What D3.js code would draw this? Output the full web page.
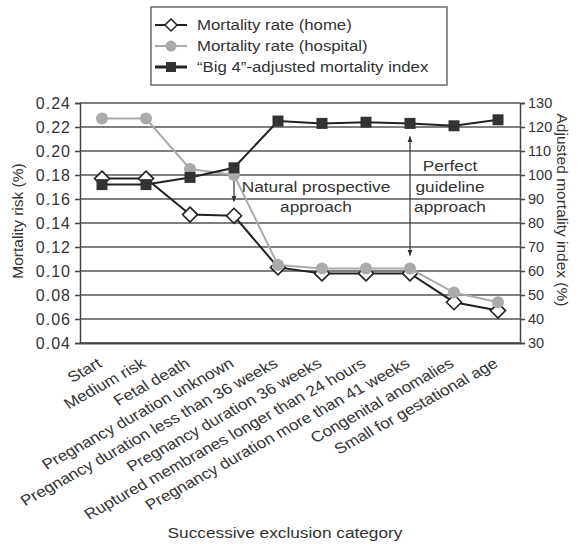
<!DOCTYPE html>
<html>
<head>
  <script src="https://d3js.org/d3.v7.min.js"></script>
  <style>
    body { margin: 0; background: #fff; }
    text { font-family: "Liberation Sans", Arial, sans-serif; fill: #333; }
  </style>
</head>
<body>
  <script>
    // Data
    const categories = ["Start", "Medium risk", "Fetal death", "Pregnancy duration unknown",
      "Pregnancy duration less than 36 weeks", "Pregnancy duration 36 weeks",
      "Ruptured membranes longer than 24 hours", "Pregnancy duration more than 41 weeks",
      "Congenital anomalies", "Small for gestational age"];
    const homeRate = [0.177, 0.177, 0.147, 0.146, 0.103, 0.098, 0.098, 0.098, 0.074, 0.067];
    const hospitalRate = [0.227, 0.227, 0.185, 0.180, 0.105, 0.102, 0.102, 0.102, 0.082, 0.074];
    const big4Index = [96, 96, 99, 103, 122.5, 121.5, 122, 121.5, 120.5, 123];
    const leftTicks = [0.04, 0.06, 0.08, 0.10, 0.12, 0.14, 0.16, 0.18, 0.20, 0.22, 0.24];
    const rightTicks = [30, 40, 50, 60, 70, 80, 90, 100, 110, 120, 130];
    const legendLabels = ["Mortality rate (home)", "Mortality rate (hospital)", "\u201cBig 4\u201d-adjusted mortality index"];

    const W = 582, H = 544;
    const plot = {left: 80, right: 520, top: 103, bottom: 343};
    const SX = 1.15; // the picture's text is a little wide

    const svg = d3.select("body").append("svg")
      .attr("width", W).attr("height", H);

    const x = d3.scaleBand().domain(categories).range([plot.left, plot.right]);
    const cx = c => x(c) + x.bandwidth() / 2;
    const yL = d3.scaleLinear().domain([0.04, 0.24]).range([plot.bottom, plot.top]);
    const yR = d3.scaleLinear().domain([30, 130]).range([plot.bottom, plot.top]);

    function wideText(g, tx, ty, str, size, sx, anchor) {
      return g.append("text")
        .attr("transform", `translate(${tx},${ty}) scale(${sx},1)`)
        .attr("text-anchor", anchor || "middle")
        .attr("font-size", size).text(str);
    }

    // Gridlines
    svg.append("g").selectAll("line").data(leftTicks).join("line")
      .attr("x1", plot.left).attr("x2", plot.right)
      .attr("y1", d => yL(d)).attr("y2", d => yL(d))
      .attr("stroke", "#555").attr("stroke-width", 1.4);

    // Left axis
    const gl = svg.append("g").attr("transform", `translate(${plot.left},0)`)
      .call(d3.axisLeft(yL).tickValues(leftTicks).tickFormat(d3.format(".2f")).tickSize(5));
    gl.selectAll("path, line").attr("stroke", "#444").attr("stroke-width", 1.5);
    gl.selectAll("text").attr("font-size", 16).attr("font-family", "Liberation Sans")
      .attr("fill", "#333").attr("letter-spacing", 1).attr("dx", -1);

    // Right axis
    const gr = svg.append("g").attr("transform", `translate(${plot.right},0)`)
      .call(d3.axisRight(yR).tickValues(rightTicks).tickSize(5));
    gr.selectAll("path, line").attr("stroke", "#444").attr("stroke-width", 1.5);
    gr.selectAll("text").attr("font-size", 14.5).attr("font-family", "Liberation Sans").attr("fill", "#333");

    // Bottom axis (labels only)
    const gb = svg.append("g").attr("transform", `translate(0,${plot.bottom})`)
      .call(d3.axisBottom(x).tickSize(0));
    gb.select("path").attr("stroke", "#444").attr("stroke-width", 2);
    gb.selectAll("text")
      .attr("font-size", 15).attr("font-family", "Liberation Sans").attr("fill", "#333")
      .attr("text-anchor", "end").attr("y", 0).attr("dy", null)
      .attr("transform", `translate(1,23) scale(${SX},1) rotate(-32.5)`);

    // Axis titles
    svg.append("text").attr("transform", "translate(23,221) rotate(-90)")
      .attr("text-anchor", "middle").attr("font-size", 15.5).text("Mortality risk (%)");
    svg.append("text").attr("transform", "translate(557,210) rotate(90)")
      .attr("text-anchor", "middle").attr("font-size", 15.5).text("Adjusted mortality index (%)");
    wideText(svg, 285, 538, "Successive exclusion category", 15, SX);

    // Arrow markers
    const defs = svg.append("defs");
    defs.append("marker").attr("id", "ah").attr("viewBox", "0 0 10 10")
      .attr("refX", 9).attr("refY", 5).attr("markerWidth", 5).attr("markerHeight", 5)
      .attr("orient", "auto-start-reverse")
      .append("path").attr("d", "M0,1L10,5L0,9z").attr("fill", "#333");

    const arrows = [
      {cat: "Pregnancy duration unknown", from: 0.180, to: 0.158},
      {cat: "Pregnancy duration more than 41 weeks", from: 0.212, to: 0.113}
    ];
    svg.append("g").selectAll("line").data(arrows).join("line")
      .attr("x1", d => cx(d.cat)).attr("x2", d => cx(d.cat))
      .attr("y1", d => yL(d.from)).attr("y2", d => yL(d.to))
      .attr("stroke", "#333").attr("stroke-width", 1.2)
      .attr("marker-start", "url(#ah)").attr("marker-end", "url(#ah)");

    // Annotation text
    const notes = [
      {x: 316, lines: ["Natural prospective", "approach"], ys: [0.170, 0.153]},
      {x: 450, lines: ["Perfect", "guideline", "approach"], ys: [0.1875, 0.170, 0.153]}
    ];
    notes.forEach(n => {
      n.lines.forEach((t, i) => {
        wideText(svg, n.x, yL(n.ys[i]) + 5, t, 15, SX);
      });
    });

    // Series lines
    const line = acc => d3.line().x((d, i) => cx(categories[i])).y(acc);

    // Home
    svg.append("path").datum(homeRate)
      .attr("fill", "none").attr("stroke", "#222").attr("stroke-width", 2)
      .attr("d", line(d => yL(d)));
    svg.append("g").selectAll("path").data(homeRate).join("path")
      .attr("transform", (d, i) => `translate(${cx(categories[i])},${yL(d)})`)
      .attr("d", "M0,-7.5L7.5,0L0,7.5L-7.5,0z")
      .attr("fill", "#fff").attr("stroke", "#222").attr("stroke-width", 1.6);

    // Hospital
    svg.append("path").datum(hospitalRate)
      .attr("fill", "none").attr("stroke", "#aaa").attr("stroke-width", 2)
      .attr("d", line(d => yL(d)));
    svg.append("g").selectAll("circle").data(hospitalRate).join("circle")
      .attr("cx", (d, i) => cx(categories[i])).attr("cy", d => yL(d))
      .attr("r", 6).attr("fill", "#aaa");

    // Big 4
    svg.append("path").datum(big4Index)
      .attr("fill", "none").attr("stroke", "#222").attr("stroke-width", 2)
      .attr("d", line(d => yR(d)));
    svg.append("g").selectAll("rect").data(big4Index).join("rect")
      .attr("x", (d, i) => cx(categories[i]) - 5.5).attr("y", d => yR(d) - 5.5)
      .attr("width", 11).attr("height", 11).attr("fill", "#333");

    // Legend
    const lg = svg.append("g");
    lg.append("rect").attr("x", 151).attr("y", 7).attr("width", 296).attr("height", 78)
      .attr("fill", "#fff").attr("stroke", "#555").attr("stroke-width", 1.3);
    const legendY = [25, 46, 67];
    legendLabels.forEach((lab, i) => {
      const row = lg.append("g").attr("transform", `translate(0,${legendY[i]})`);
      row.append("line").attr("x1", 155).attr("x2", 187)
        .attr("stroke", i === 1 ? "#aaa" : "#222").attr("stroke-width", i === 2 ? 3 : 2);
      if (i === 0) row.append("path").attr("transform", "translate(171,0)")
        .attr("d", "M0,-6L6,0L0,6L-6,0z").attr("fill", "#fff").attr("stroke", "#222").attr("stroke-width", 1.5);
      if (i === 1) row.append("circle").attr("cx", 171).attr("r", 5.5).attr("fill", "#aaa");
      if (i === 2) row.append("rect").attr("x", 166).attr("y", -5).attr("width", 10).attr("height", 10).attr("fill", "#333");
      wideText(row, 197, 5, lab, 15, 1.12, "start");
    });
  </script>
</body>
</html>
